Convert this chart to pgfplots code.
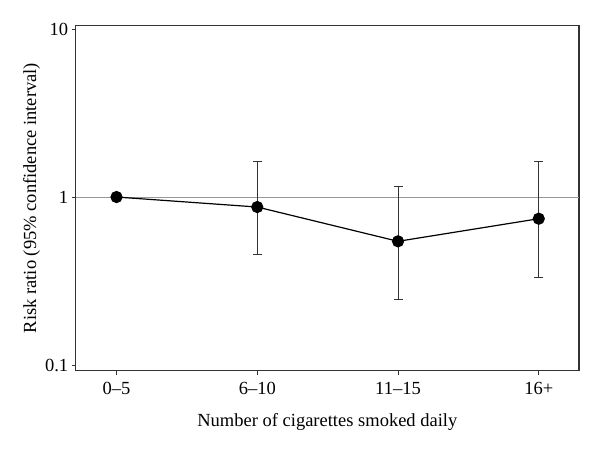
\documentclass[border=0pt]{standalone}
\usepackage{fontspec}
\setmainfont{Liberation Serif}
\usepackage{pgfplots}
\pgfplotsset{compat=1.18}
\begin{document}
\begin{tikzpicture}
\useasboundingbox (0,0) rectangle (600pt,454pt);
\begin{axis}[
    at={(75.7pt,83.3pt)}, anchor=south west,
    scale only axis,
    width=503.3pt, height=345.4pt,
    ymode=log,
    ymin=0.0925, ymax=10.53,
    xmin=-0.29, xmax=3.286,
    xtick={0,1,2,3},
    xticklabels={0--5,6--10,11--15,16+},
    ytick={0.1,1,10},
    yticklabels={0.1,1,10},
    minor y tick style={draw=none},
    xtick pos=bottom,
    ytick pos=left,
    axis line style={black!80, line width=1.3pt},
    tick style={black!80, line width=1pt},
    tick align=outside,
    major tick length=4pt,
    font=\fontsize{18.5}{22}\selectfont,
    /pgf/number format/assume math mode=true,
    xticklabel style={yshift=-4pt},
    xlabel={Number of cigarettes smoked daily},
    ylabel={Risk ratio (95\% confidence interval)},
    xlabel style={yshift=-12pt},
    ylabel style={yshift=-2pt},
    clip=false,
]
\addplot[black!40, line width=1pt] coordinates {(-0.29,1) (3.286,1)};
\addplot[draw=none, forget plot,
    error bars/.cd, y dir=both, y explicit,
    error bar style={black!80, line width=1pt},
    error mark options={black!80, line width=1pt, mark size=4.5pt, rotate=90}]
  table[x=x, y=y, y error plus=ep, y error minus=em] {
x y ep em
1 0.872 0.748 0.416
2 0.545 0.618 0.300
3 0.743 0.877 0.412
};
\addplot[black, line width=1.2pt, mark=*, mark size=5.5pt, mark options={fill=black}]
  coordinates {(0,1) (1,0.872) (2,0.545) (3,0.743)};
\end{axis}
\end{tikzpicture}
\end{document}
